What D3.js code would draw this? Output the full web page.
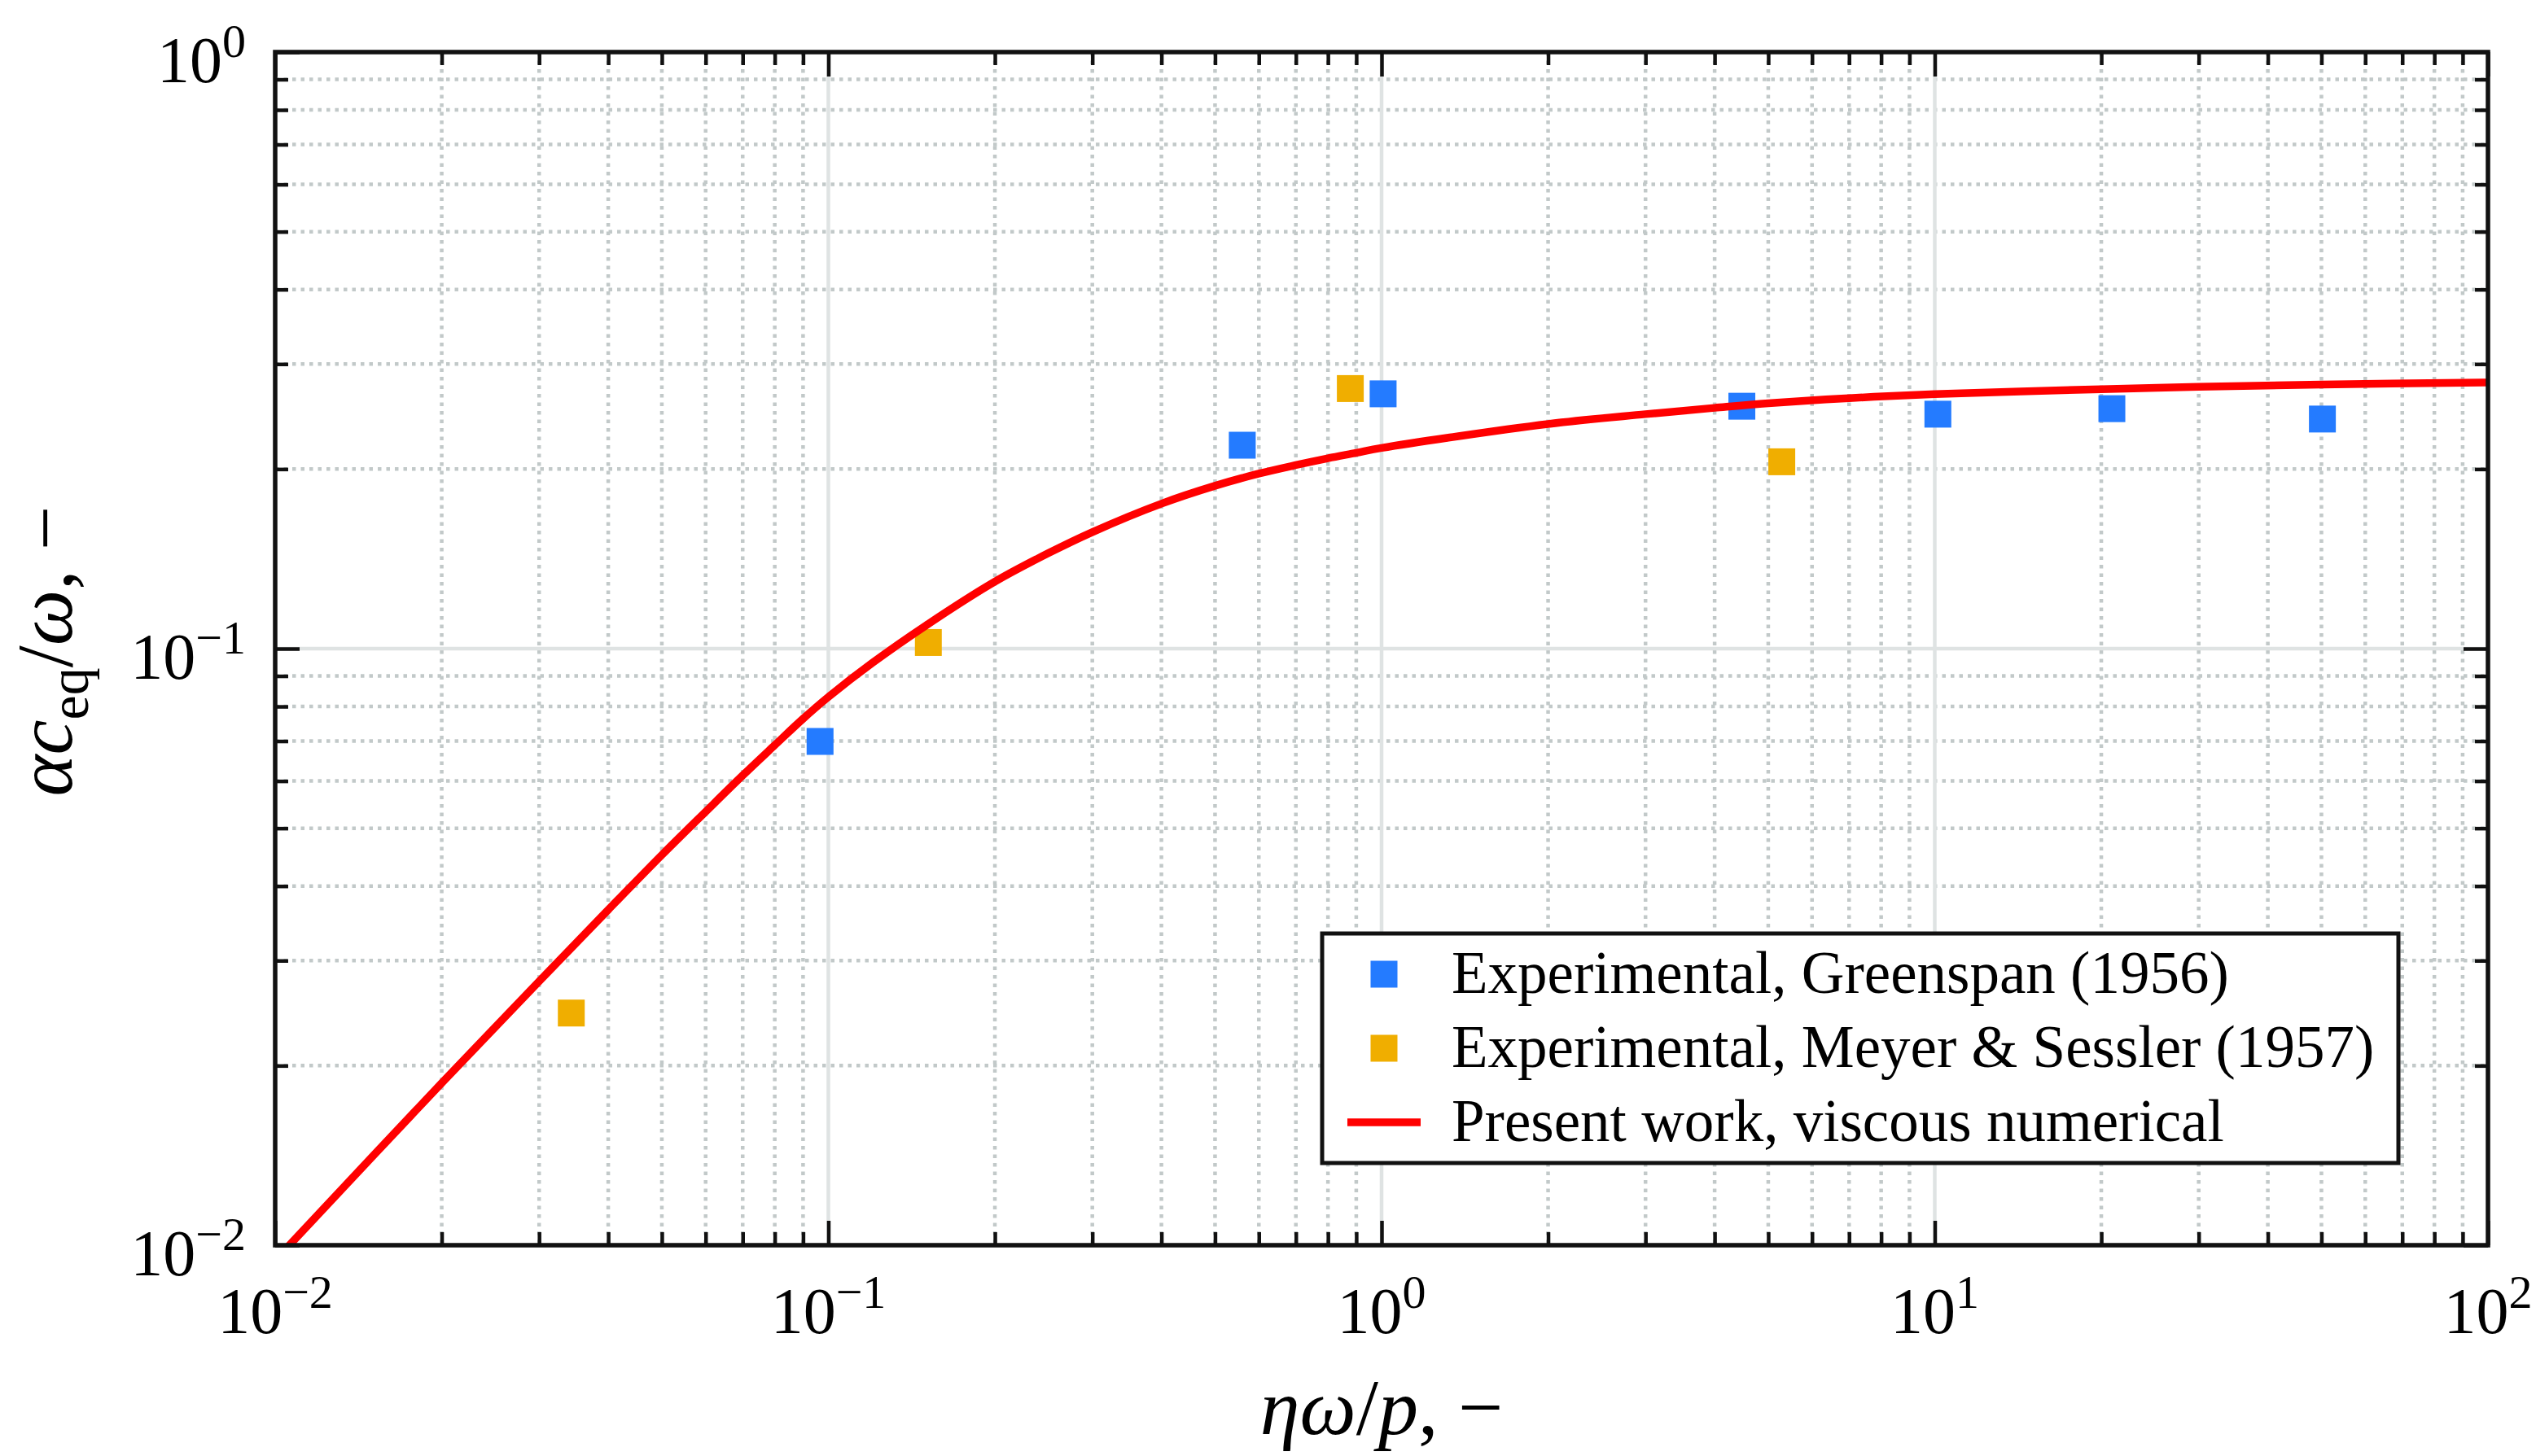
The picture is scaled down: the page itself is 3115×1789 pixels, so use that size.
<!DOCTYPE html>
<html>
<head>
<meta charset="utf-8">
<script src="https://cdn.jsdelivr.net/npm/d3@7"></script>
<style>
  body { margin: 0; background: #fff; }
  text { font-family: "Liberation Serif", "Times New Roman", serif; fill: #000; }
</style>
</head>
<body>
<script>
// Values
var greenspanX = [0.0966, 0.560, 1.0065, 4.48, 10.13, 20.9, 50.2];
var greenspanY = [0.0699, 0.2193, 0.2674, 0.2549, 0.2472, 0.2525, 0.2426];
var meyerX = [0.0343, 0.1516, 0.878, 5.29];
var meyerY = [0.0245, 0.1024, 0.2729, 0.2057];

// red curve, present work
var curveX = [0.0105, 0.02, 0.03, 0.04, 0.05, 0.06, 0.07, 0.08, 0.09, 0.1, 0.12, 0.15, 0.2, 0.25, 0.3, 0.4, 0.5, 0.6, 0.7, 0.8, 0.9, 1.0, 2, 3, 4, 5, 7, 10, 20, 30, 50, 100];
var curveY = [0.0099, 0.0187, 0.0277, 0.0365, 0.0451, 0.0533, 0.0613, 0.0689, 0.0763, 0.0830, 0.0946, 0.1093, 0.1295, 0.1446, 0.1568, 0.1750, 0.1875, 0.1965, 0.2031, 0.2085, 0.2129, 0.2170, 0.2380, 0.2472, 0.2533, 0.2578, 0.2630, 0.2670, 0.2722, 0.2748, 0.2772, 0.2794];

var xMajor = [0.01, 0.1, 1, 10, 100];
var xExp = ["\u22122", "\u22121", "0", "1", "2"];
var yMajor = [0.01, 0.1, 1];
var yExp = ["\u22122", "\u22121", "0"];

var legendNames = ["Experimental, Greenspan (1956)", "Experimental, Meyer & Sessler (1957)", "Present work, viscous numerical"];
var colBlue = "#247bff", colOrange = "#f0ae00", colRed = "#ff0000";

(function() {
var W = 3115, H = 1789;
var pl = 338, pr = 3056, pt = 64, pb = 1530;

var svg = d3.select("body").append("svg").attr("width", W).attr("height", H);

var x = d3.scaleLog().domain([0.01, 100]).range([pl, pr]);
var y = d3.scaleLog().domain([0.01, 1]).range([pb, pt]);

// d3 log ticks come back as floats, compare in log space
function isMajor(v, list) { return list.some(function(m) { return Math.abs(Math.log10(v) - Math.log10(m)) < 1e-6; }); }
var xMinor = x.ticks().filter(function(v) { return !isMajor(v, xMajor); });
var yMinor = y.ticks().filter(function(v) { return !isMajor(v, yMajor); });

// grid
var grid = svg.append("g");
grid.selectAll(".gxm").data(xMinor).enter().append("line")
    .attr("x1", function(d) { return x(d); }).attr("x2", function(d) { return x(d); })
    .attr("y1", pt).attr("y2", pb)
    .attr("stroke", "#c2c9c9").attr("stroke-width", 4.5).attr("stroke-dasharray", "4.5,6");
grid.selectAll(".gym").data(yMinor).enter().append("line")
    .attr("x1", pl).attr("x2", pr)
    .attr("y1", function(d) { return y(d); }).attr("y2", function(d) { return y(d); })
    .attr("stroke", "#c2c9c9").attr("stroke-width", 4.5).attr("stroke-dasharray", "4.5,6");
grid.selectAll(".gxM").data(xMajor.slice(1, -1)).enter().append("line")
    .attr("x1", function(d) { return x(d); }).attr("x2", function(d) { return x(d); })
    .attr("y1", pt).attr("y2", pb)
    .attr("stroke", "#dfe3e3").attr("stroke-width", 4.5);
grid.selectAll(".gyM").data(yMajor.slice(1, -1)).enter().append("line")
    .attr("x1", pl).attr("x2", pr)
    .attr("y1", function(d) { return y(d); }).attr("y2", function(d) { return y(d); })
    .attr("stroke", "#dfe3e3").attr("stroke-width", 4.5);

// markers
var ms = 33;
var marks = svg.append("g");
marks.selectAll(".gs").data(greenspanX).enter().append("rect")
    .attr("x", function(d) { return x(d) - ms / 2; })
    .attr("y", function(d, i) { return y(greenspanY[i]) - ms / 2; })
    .attr("width", ms).attr("height", ms).attr("fill", colBlue);
marks.selectAll(".ms").data(meyerX).enter().append("rect")
    .attr("x", function(d) { return x(d) - ms / 2; })
    .attr("y", function(d, i) { return y(meyerY[i]) - ms / 2; })
    .attr("width", ms).attr("height", ms).attr("fill", colOrange);

// curve
svg.append("clipPath").attr("id", "clip").append("rect")
    .attr("x", pl).attr("y", pt).attr("width", pr - pl).attr("height", pb - pt);
var line = d3.line()
    .curve(d3.curveCatmullRom.alpha(0.5))
    .x(function(d) { return x(d); })
    .y(function(d, i) { return y(curveY[i]); });
svg.append("path")
    .datum(curveX)
    .attr("clip-path", "url(#clip)")
    .attr("fill", "none")
    .attr("stroke", colRed)
    .attr("stroke-width", 9.5)
    .attr("stroke-linecap", "round")
    .attr("d", line);

// ticks, inward on all four sides
function ticks(axisFn, scale, vals, len, tr) {
    var g = svg.append("g").attr("transform", tr)
        .call(axisFn(scale).tickValues(vals).tickSize(len).tickFormat(""));
    g.select(".domain").remove();
    g.selectAll(".tick line").attr("stroke", "#111").attr("stroke-width", 4.5);
}
ticks(d3.axisBottom, x, xMajor, -30, "translate(0," + pb + ")");
ticks(d3.axisBottom, x, xMinor, -16, "translate(0," + pb + ")");
ticks(d3.axisTop, x, xMajor, -30, "translate(0," + pt + ")");
ticks(d3.axisTop, x, xMinor, -16, "translate(0," + pt + ")");
ticks(d3.axisLeft, y, yMajor, -30, "translate(" + pl + ",0)");
ticks(d3.axisLeft, y, yMinor, -16, "translate(" + pl + ",0)");
ticks(d3.axisRight, y, yMajor, -30, "translate(" + pr + ",0)");
ticks(d3.axisRight, y, yMinor, -16, "translate(" + pr + ",0)");

// frame
svg.append("rect").attr("x", pl).attr("y", pt)
    .attr("width", pr - pl).attr("height", pb - pt)
    .attr("fill", "none").attr("stroke", "#111").attr("stroke-width", 5.5);

// tick labels
function powLabel(sel, e) {
    sel.append("tspan").text("10");
    sel.append("tspan").attr("font-size", 58).attr("dy", -31).text(e);
}
xMajor.forEach(function(v, i) {
    var t = svg.append("text").attr("x", x(v)).attr("y", 1638)
        .attr("font-size", 80).attr("text-anchor", "middle");
    powLabel(t, xExp[i]);
});
yMajor.forEach(function(v, i) {
    var t = svg.append("text").attr("x", pl - 36).attr("y", y(v) + 37)
        .attr("font-size", 80).attr("text-anchor", "end");
    powLabel(t, yExp[i]);
});

// axis titles
var xl = svg.append("text").attr("x", (pl + pr) / 2).attr("y", 1762)
    .attr("font-size", 98).attr("text-anchor", "middle");
xl.append("tspan").attr("font-style", "italic").text("\u03b7\u03c9");
xl.append("tspan").text("/");
xl.append("tspan").attr("font-style", "italic").text("p");
xl.append("tspan").text(", \u2212");

var yl = svg.append("text")
    .attr("transform", "translate(88,800) rotate(-90)")
    .attr("font-size", 97).attr("text-anchor", "middle");
yl.append("tspan").attr("font-style", "italic").text("\u03b1c");
yl.append("tspan").attr("font-size", 68).attr("dy", 20).text("eq");
yl.append("tspan").attr("dy", -20).text("/");
yl.append("tspan").attr("font-style", "italic").text("\u03c9");
yl.append("tspan").text(", \u2212");

// legend
var lg = svg.append("g");
lg.append("rect").attr("x", 1624).attr("y", 1147).attr("width", 1322).attr("height", 282)
    .attr("fill", "#fff").attr("stroke", "#111").attr("stroke-width", 5);
var rowY = [1197, 1288, 1379];
lg.append("rect").attr("x", 1700 - ms / 2).attr("y", rowY[0] - ms / 2)
    .attr("width", ms).attr("height", ms).attr("fill", colBlue);
lg.append("rect").attr("x", 1700 - ms / 2).attr("y", rowY[1] - ms / 2)
    .attr("width", ms).attr("height", ms).attr("fill", colOrange);
lg.append("line").attr("x1", 1655).attr("x2", 1745).attr("y1", rowY[2]).attr("y2", rowY[2])
    .attr("stroke", colRed).attr("stroke-width", 9.5);
legendNames.forEach(function(n, i) {
    lg.append("text").attr("x", 1783).attr("y", rowY[i] + 23)
        .attr("font-size", 73).text(n);
});
})();
</script>
</body>
</html>
